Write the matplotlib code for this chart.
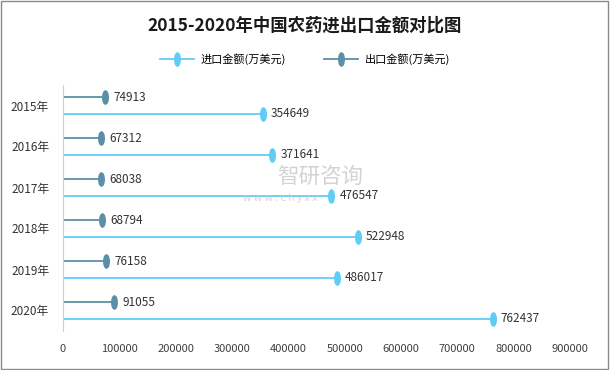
import matplotlib.pyplot as plt
import numpy as np
from matplotlib.path import Path
from matplotlib.patches import Rectangle
from matplotlib.legend_handler import HandlerLine2D
from matplotlib.lines import Line2D

plt.rcParams['font.family'] = ['Noto Sans CJK SC', 'DejaVu Sans']

years = ['2015年', '2016年', '2017年', '2018年', '2019年', '2020年']
imports = [354649, 371641, 476547, 522948, 486017, 762437]
exports = [74913, 67312, 68038, 68794, 76158, 91055]
xticks = [0, 100000, 200000, 300000, 400000, 500000, 600000, 700000, 800000, 900000]

c_imp = '#5fcdf5'
c_exp = '#5b8fa8'

# tall narrow ellipse marker
circ = Path.unit_circle()
ellipse = Path(circ.vertices * np.array([0.42, 1.0]), circ.codes)


class EndMarker(HandlerLine2D):
    def get_xdata(self, legend, xdescent, ydescent, width, height, fontsize):
        xdata = np.array([-xdescent, -xdescent + width])
        return xdata, xdata[-1:]


fig = plt.figure(figsize=(6.1, 3.7), dpi=100)
ax = fig.add_axes([63 / 610, 1 - 331 / 370, 507 / 610, 246 / 370])

y = np.arange(len(years))
off = 0.2
for i in range(len(years)):
    ax.plot([0, exports[i]], [y[i] - off, y[i] - off], color=c_exp, lw=1.3,
            marker=ellipse, markevery=[1], ms=9.5, solid_capstyle='butt')
    ax.plot([0, imports[i]], [y[i] + off, y[i] + off], color=c_imp, lw=1.3,
            marker=ellipse, markevery=[1], ms=9.5, solid_capstyle='butt')
    ax.annotate(str(exports[i]), (exports[i], y[i] - off), xytext=(6, 0),
                textcoords='offset points', va='center', ha='left', fontsize=8.5, color='#333333')
    ax.annotate(str(imports[i]), (imports[i], y[i] + off), xytext=(6, 0),
                textcoords='offset points', va='center', ha='left', fontsize=8.5, color='#333333')

ax.set_xlim(0, 900000)
ax.set_ylim(len(years) - 0.5, -0.5)
ax.set_xticks(xticks)
ax.set_xticklabels([str(v) for v in xticks], fontsize=8, color='#404040')
ax.set_yticks(y)
ax.set_yticklabels(years, fontsize=8.5, color='#333333')
ax.tick_params(length=0, pad=9)
ax.tick_params(axis='y', pad=10)
for s in ['top', 'right', 'bottom']:
    ax.spines[s].set_visible(False)
ax.spines['left'].set_color('#d0d0d0')

h_imp = Line2D([], [], color=c_imp, lw=1.3, marker=ellipse, ms=9.5)
h_exp = Line2D([], [], color=c_exp, lw=1.3, marker=ellipse, ms=9.5)
fig.legend([h_imp, h_exp], ['进口金额(万美元)', '出口金额(万美元)'],
           loc='center', bbox_to_anchor=(0.5, 1 - 59 / 370), ncol=2, frameon=False,
           fontsize=8, handlelength=3.0, columnspacing=3.5, handletextpad=0.6,
           handler_map={Line2D: EndMarker()})

fig.text(0.5, 1 - 26 / 370, '2015-2020年中国农药进出口金额对比图', ha='center', va='center',
         fontsize=12.5, fontweight='bold', color='#1a1a1a')

# watermark
fig.text(320 / 610, 1 - 177 / 370, '智研咨询', ha='center', va='center', fontsize=15.5,
         color='#c8c8c8', alpha=0.8)
fig.text(280 / 610, 1 - 198 / 370, 'w w w . c h y x x', ha='center', va='center', fontsize=7.5,
         color='#c8c8c8', alpha=0.8)

fig.patches.append(Rectangle((0.002, 0.003), 0.995, 0.994, transform=fig.transFigure,
                             fill=False, ec='#8a8a8a', lw=1.0))

fig.savefig('out.png', dpi=100)
